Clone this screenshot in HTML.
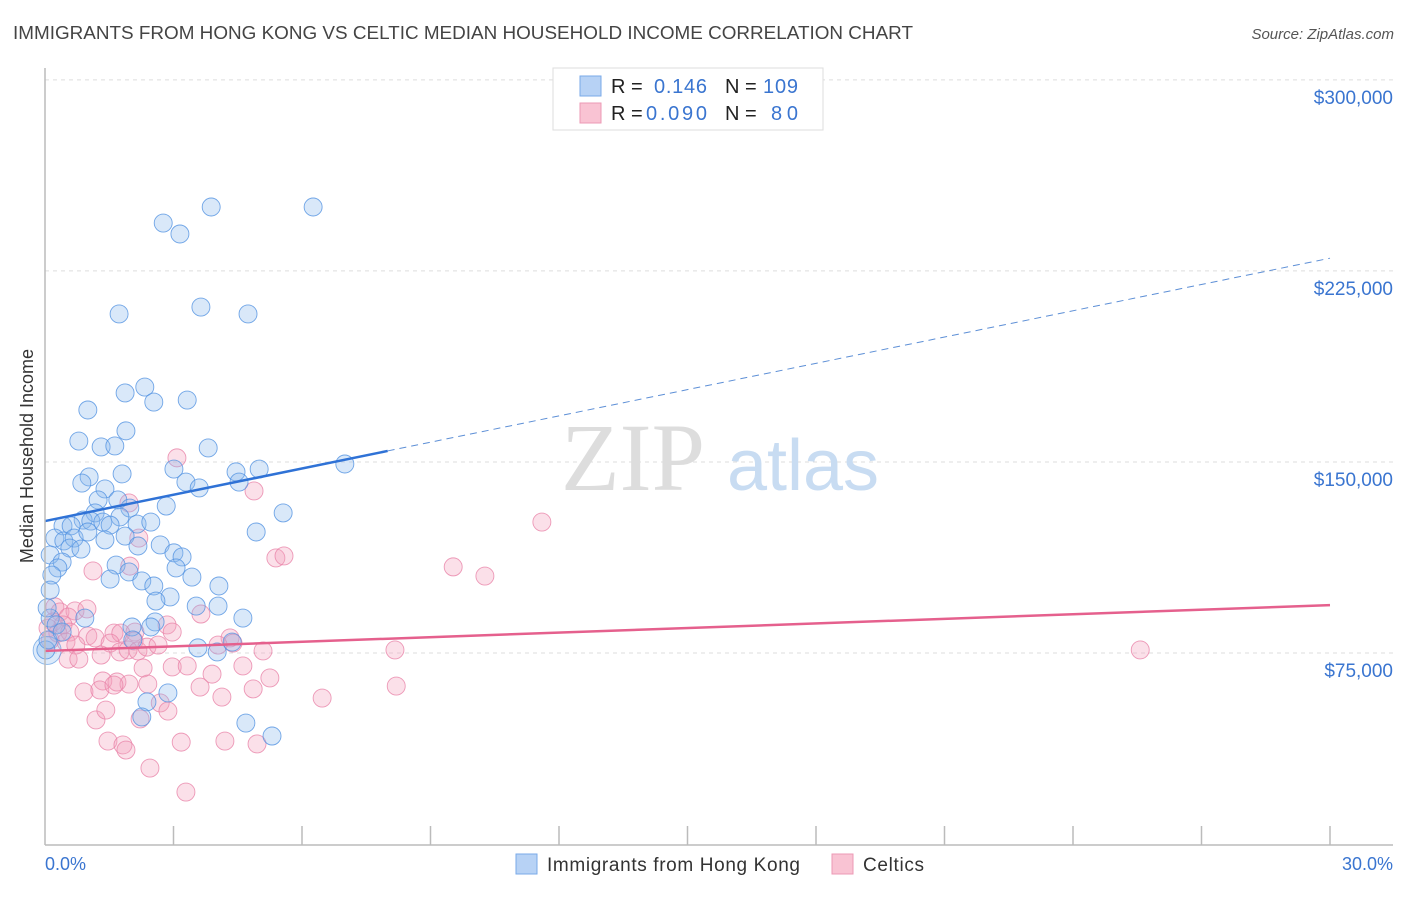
<!DOCTYPE html>
<html><head><meta charset="utf-8"><style>
body{margin:0;background:#fff;font-family:"Liberation Sans",sans-serif;}
</style></head><body>
<svg width="1406" height="892" viewBox="0 0 1406 892" xmlns="http://www.w3.org/2000/svg">
<text x="13" y="39" font-size="18" fill="#444" textLength="900" lengthAdjust="spacingAndGlyphs">IMMIGRANTS FROM HONG KONG VS CELTIC MEDIAN HOUSEHOLD INCOME CORRELATION CHART</text>
<text x="1394" y="39" font-size="15" fill="#555" font-style="italic" text-anchor="end">Source: ZipAtlas.com</text>
<g id="grid"></g>
<text x="633" y="490" font-size="96" fill="#ddd" font-family="Liberation Serif,serif" text-anchor="middle">ZIP</text>
<text x="803" y="490" font-size="72" fill="#c8dcf2" text-anchor="middle">atlas</text>
<g id="pts"></g>
<g id="trends"></g>
<line x1="45" y1="68" x2="45" y2="845" stroke="#bbb" stroke-width="1.5"/>
<line x1="45" y1="845" x2="1393" y2="845" stroke="#bbb" stroke-width="1.5"/>
<g id="xticks"></g>
<text x="45" y="870" font-size="18" fill="#3a75d0">0.0%</text>
<text x="1393" y="870" font-size="18" fill="#3a75d0" text-anchor="end">30.0%</text>
<text transform="translate(33,456) rotate(-90)" font-size="18" fill="#333" text-anchor="middle">Median Household Income</text>
<g>
<rect x="553" y="68" width="270" height="62" fill="#fff" stroke="#ddd"/>
<rect x="580" y="76" width="21" height="20" fill="#b7d2f5" stroke="#7aaae8"/>
<rect x="580" y="103" width="21" height="20" fill="#f9c3d3" stroke="#ec9ab5"/>
<text x="611" y="93" font-size="20" fill="#222">R = </text><text x="654" y="93" font-size="20" fill="#3a75d0" textLength="53">0.146</text>
<text x="725" y="93" font-size="20" fill="#222">N = </text><text x="763" y="93" font-size="20" fill="#3a75d0" textLength="35">109</text>
<text x="611" y="120" font-size="20" fill="#222">R = </text><text x="646" y="120" font-size="20" fill="#3a75d0" textLength="61">0.090</text>
<text x="725" y="120" font-size="20" fill="#222">N = </text><text x="771" y="120" font-size="20" fill="#3a75d0" textLength="27">80</text>
</g>
<g>
<rect x="516" y="854" width="21" height="20" fill="#b7d2f5" stroke="#7aaae8"/>
<text x="547" y="871" font-size="19" fill="#333" textLength="253">Immigrants from Hong Kong</text>
<rect x="832" y="854" width="21" height="20" fill="#f9c3d3" stroke="#ec9ab5"/>
<text x="863" y="871" font-size="19" fill="#333" textLength="61">Celtics</text>
</g>
</svg>
<script>
const yTicks=[75,150,225,300];
const yTickLabels=["$75,000","$150,000","$225,000","$300,000"];
const blueX=[6.26,3.88,2.76,3.15,1.73,3.64,4.74,2.33,1.87,2.54,3.32,1.00,0.79,1.89,1.31,1.63,3.81,7.00,4.46,5.00,3.01,1.80,1.03,0.86,3.29,3.60,4.53,1.40,1.24,1.70,5.56,2.83,1.98,4.93,1.17,0.89,0.42,0.61,1.07,1.35,1.75,2.15,2.47,1.52,0.23,0.44,0.68,1.00,1.40,1.87,2.17,2.69,0.12,0.58,0.84,0.40,0.30,0.16,3.01,3.20,3.06,1.66,1.96,3.43,4.06,1.52,2.26,2.54,0.12,2.92,3.53,4.04,2.59,0.93,4.62,2.57,2.47,2.03,2.05,4.37,3.57,4.02,0.02,2.87,2.38,2.26,4.69,5.30,0.12,0.26,0.05,0.07,0.40];
const blueY=[250.1,250.1,243.8,239.5,208.1,210.8,208.1,179.4,177.1,173.5,174.3,170.4,158.2,162.2,155.9,156.3,155.5,149.2,146.1,147.2,147.2,145.3,144.1,141.7,142.1,139.8,142.1,139.4,135.1,135.1,130.0,132.7,131.9,122.5,130.0,127.2,124.9,124.9,126.8,126.4,128.4,125.6,126.4,125.2,120.1,119.0,120.1,122.5,119.4,120.9,117.0,117.4,113.5,116.2,115.8,110.7,108.4,105.6,114.3,112.7,108.4,109.5,106.8,104.8,101.3,104.0,103.3,101.3,99.7,97.0,93.4,93.4,95.4,88.7,88.7,87.2,85.2,85.2,80.1,79.3,77.0,75.4,76.2,59.3,55.8,49.9,47.5,42.4,88.7,86.0,92.7,80.1,83.2];
const pinkX=[3.08,4.88,11.60,1.96,5.39,5.58,9.53,10.27,2.19,1.98,1.12,0.23,0.35,0.70,0.98,0.54,0.19,0.42,0.07,0.30,0.58,1.00,1.17,1.61,1.77,2.10,2.85,2.97,3.64,4.32,4.39,0.12,0.49,0.72,1.52,2.08,0.54,0.79,1.31,1.75,1.94,2.17,2.38,2.64,4.04,5.09,8.17,25.57,2.29,2.97,3.32,4.62,3.90,5.25,1.35,1.68,1.96,2.40,3.62,4.13,4.86,8.20,0.91,1.28,1.61,6.47,2.69,2.87,2.22,1.19,1.42,1.47,1.82,1.89,3.18,4.20,4.95,2.45,3.29];
const pinkY=[151.6,138.6,126.4,133.9,112.3,113.1,108.8,105.2,120.1,109.1,107.2,93.1,91.1,91.5,92.3,89.1,87.2,86.0,84.8,82.8,83.2,81.7,80.9,82.8,82.8,83.2,86.0,83.2,90.3,80.9,78.9,80.1,79.3,78.1,78.9,79.7,72.6,72.6,74.2,75.4,76.2,75.8,77.3,78.1,78.1,75.8,76.2,76.2,69.1,69.5,69.9,69.9,66.7,65.2,64.0,63.6,62.8,62.8,61.6,57.7,60.9,62.0,59.7,60.5,62.4,57.3,55.4,52.2,49.1,48.7,52.6,40.4,38.9,36.9,40.0,40.4,39.3,29.8,20.4];
const bigBlueX=[0.05];
const bigBlueY=[76.0];
const blueTrend=[126.8,230.0];
const pinkTrend=[75.8,93.8];
const blueSolidEnd=8.0;

const NS="http://www.w3.org/2000/svg";
const sx=v=>45+v/30*1285;
const sy=v=>844-v*2.547;
function mk(tag,attrs,parent){const e=document.createElementNS(NS,tag);for(const k in attrs)e.setAttribute(k,attrs[k]);parent.appendChild(e);return e;}
const grid=document.getElementById('grid');
yTicks.forEach((t,i)=>{
  const l=mk('line',{x1:45,x2:1393,y1:sy(t),y2:sy(t),stroke:'#ddd','stroke-dasharray':'4,4'},grid);
  
  
  const tx=mk('text',{x:1393,y:sy(t)+24,'font-size':19,fill:'#3a75d0','text-anchor':'end'},grid);
  tx.textContent=yTickLabels[i];
  
  
});
const xt=document.getElementById('xticks');
for(let i=1;i<=10;i++){
  const l=mk('line',{x1:sx(i*3),x2:sx(i*3),y1:826,y2:845,stroke:'#bbb','stroke-width':1.5},xt);
  
  
}
const pts=document.getElementById('pts');
pinkX.forEach((x,i)=>{
  const c=mk('circle',{cx:sx(x),cy:sy(pinkY[i]),r:9,fill:'rgba(244,160,188,0.33)',stroke:'rgba(232,130,168,0.8)','stroke-width':0.9},pts);
  
  
});
bigBlueX.forEach((x,i)=>{
  const c=mk('circle',{cx:sx(x),cy:sy(bigBlueY[i]),r:14,fill:'rgba(140,185,238,0.3)',stroke:'rgba(93,155,227,0.7)','stroke-width':0.9},pts);
  
  
});
blueX.forEach((x,i)=>{
  const c=mk('circle',{cx:sx(x),cy:sy(blueY[i]),r:9,fill:'rgba(140,185,238,0.33)',stroke:'rgba(80,145,225,0.8)','stroke-width':0.9},pts);
  
  
});
const tr=document.getElementById('trends');
const bAt=x=>blueTrend[0]+(blueTrend[1]-blueTrend[0])*x/30;
let l1=mk('line',{x1:sx(0),y1:sy(bAt(0)),x2:sx(blueSolidEnd),y2:sy(bAt(blueSolidEnd)),stroke:'#2f72d6','stroke-width':2.5},tr);


let l2=mk('line',{x1:sx(blueSolidEnd),y1:sy(bAt(blueSolidEnd)),x2:sx(30),y2:sy(bAt(30)),stroke:'#5d8fd6','stroke-width':1,'stroke-dasharray':'7,5'},tr);


let l3=mk('line',{x1:sx(0),y1:sy(pinkTrend[0]),x2:sx(30),y2:sy(pinkTrend[1]),stroke:'#e5608d','stroke-width':2.5},tr);


</script>
</body></html>
